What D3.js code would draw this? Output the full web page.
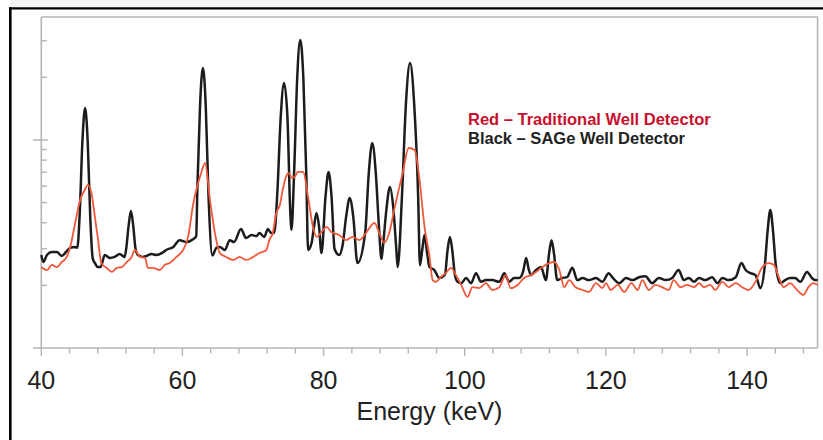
<!DOCTYPE html>
<html>
<head>
<meta charset="utf-8">
<script src="https://cdn.jsdelivr.net/npm/d3@7"></script>
<style>
body { margin: 0; background: #fff; }
text { font-family: "Liberation Sans", Arial, Helvetica, sans-serif; }
</style>
</head>
<body>
<script>
// spectrum data: [energy keV, counts]
const blackSpectrum = [
[40.0,280],[40.3,259],[40.8,280],[41.5,289],[42.2,289],[42.9,277],[43.6,292],[44.1,303],[44.8,306],[45.1,303],
[45.45,448],[45.82,975],[46.2,1425],[46.58,975],[46.95,413],[47.3,268],[47.6,256],[48.0,245],[48.4,245],[49.0,280],
[49.7,271],[50.4,274],[51.1,283],[51.8,274],[52.05,304],[52.37,386],[52.7,455],[53.03,386],[53.35,300],[53.7,280],
[54.4,274],[54.9,277],[55.6,283],[56.3,280],[57.3,289],[57.7,296],[58.7,306],[59.6,330],[60.6,323],[61.5,333],
[61.95,345],[62.12,594],[62.5,1480],[62.9,2220],[63.3,1465],[63.68,556],[64.25,278],[64.8,303],[65.3,306],[66.0,296],
[66.7,330],[67.3,323],[68.3,373],[69.0,338],[69.8,349],[70.5,345],[70.9,357],[71.6,342],[72.1,373],[72.6,357],
[73.0,357],[73.45,561],[73.92,1281],[74.4,1880],[74.88,1281],[75.25,480],[75.45,370],[75.84,725],[76.26,1980],[76.7,3027],
[77.14,1954],[77.56,665],[77.8,296],[78.3,320],[78.65,385],[79.0,446],[79.35,385],[79.7,286],[80.28,538],[80.7,702],
[81.12,538],[81.55,300],[82.2,280],[82.7,313],[83.2,429],[83.7,526],[84.2,429],[84.8,256],[85.9,360],[86.4,691],
[86.9,967],[87.4,691],[87.85,380],[88.2,268],[88.4,305],[88.9,463],[89.4,594],[89.9,463],[90.3,300],[90.5,245],
[91.1,533],[91.68,1522],[92.25,2345],[92.82,1522],[93.4,533],[93.65,250],[94.0,300],[94.3,349],[94.65,290],[95.0,245],
[95.7,237],[96.4,217],[97.2,225],[97.55,292],[97.9,342],[98.25,292],[98.6,225],[98.98,208],[99.5,205],[100.2,217],
[100.9,205],[101.6,229],[102.3,208],[103.0,212],[103.9,212],[104.9,208],[105.6,229],[106.3,208],[107.0,217],[107.7,217],
[108.3,235],[108.7,271],[109.05,240],[109.4,224],[110.1,237],[110.8,245],[111.5,212],[111.95,284],[112.3,330],[112.65,284],
[113.1,212],[113.8,217],[114.5,219],[115.25,243],[115.95,212],[116.7,217],[117.6,212],[118.6,217],[119.5,208],[120.4,229],
[120.9,219],[121.9,205],[122.85,217],[123.8,212],[124.7,219],[125.6,221],[126.55,205],[127.5,217],[128.5,212],[129.4,217],
[130.3,237],[131.05,212],[131.75,217],[132.5,208],[133.2,217],[134.1,212],[135.05,219],[135.8,205],[136.5,217],[137.4,212],
[138.4,219],[139.2,256],[139.8,237],[140.5,229],[141.2,224],[141.9,194],[142.54,253],[142.92,366],[143.3,461],[143.68,366],
[144.06,253],[144.7,205],[145.4,212],[146.1,217],[146.8,217],[147.55,208],[148.5,232],[149.2,217],[149.65,212],[150,212]
];

const redSpectrum = [
[40.0,245],[40.8,237],[41.5,251],[42.2,245],[42.9,259],[43.6,274],[44.1,306],[44.8,399],[45.5,515],[46.1,570],
[46.6,608],[47.1,556],[47.6,426],[48.1,320],[48.5,256],[49.25,243],[50.0,232],[50.7,243],[51.4,245],[52.1,259],
[52.8,274],[53.25,296],[54.0,274],[54.7,271],[55.1,243],[55.8,243],[56.8,237],[57.5,251],[58.2,256],[59.15,274],
[60.1,296],[60.8,342],[61.5,487],[62.2,616],[62.7,702],[63.2,775],[63.9,515],[64.6,357],[65.3,286],[66.2,274],
[67.2,265],[68.1,274],[69.05,265],[70.0,274],[70.9,286],[71.9,296],[72.3,330],[72.8,357],[73.3,446],[73.8,487],
[74.2,575],[74.8,680],[75.1,693],[75.5,657],[75.9,664],[76.35,702],[77.1,702],[77.8,532],[78.5,382],[79.0,342],
[79.7,361],[80.4,382],[81.1,361],[82.2,349],[83.2,330],[84.1,342],[85.1,330],[86.0,357],[87.2,399],[87.9,357],
[88.6,320],[89.3,357],[90.0,461],[91.2,693],[92.05,915],[92.9,895],[93.6,642],[94.3,382],[95.0,277],[95.45,212],
[95.9,208],[96.6,219],[97.3,229],[98.05,243],[98.75,224],[99.5,201],[100.4,176],[101.1,196],[102.05,194],[103.0,205],
[103.9,190],[104.9,196],[105.8,224],[106.5,194],[107.5,201],[108.4,217],[109.4,224],[110.1,232],[111.0,245],[111.95,256],
[112.7,259],[113.4,237],[114.1,196],[114.8,212],[115.7,196],[116.7,190],[117.6,186],[118.6,205],[119.5,194],[120.0,205],
[120.7,190],[121.7,201],[122.6,186],[123.6,205],[124.5,190],[125.15,212],[126.1,190],[127.0,201],[127.98,196],[128.9,190],
[129.6,212],[130.6,196],[131.5,201],[132.5,196],[133.2,205],[133.9,196],[134.8,201],[135.5,190],[136.5,208],[137.4,196],
[138.4,205],[139.3,196],[140.2,190],[141.2,208],[142.1,243],[143.1,256],[143.8,251],[144.5,219],[145.2,196],[146.1,205],
[147.1,190],[148.0,180],[148.7,196],[149.4,205],[150,201]
];

const xLabels = [40, 60, 80, 100, 120, 140];
const xMinor = d3.range(40, 151, 4);
const yMinor = [200, 300, 400, 500, 600, 700, 800, 900, 2000, 3000];
const yMajor = [1000];
const legendLines = ["Red \u2013 Traditional Well Detector", "Black \u2013 SAGe Well Detector"];

const W = 823, H = 440;
const plotLeft = 41.3, plotRight = 817.6, plotTop = 17, plotBottom = 348;

const svg = d3.select("body").append("svg")
    .attr("width", W).attr("height", H);

// outer frame
svg.append("rect").attr("x", 10).attr("y", 0).attr("width", W - 10).attr("height", 7).style("fill", "#f4f4f4");
svg.append("line").attr("x1", 9).attr("x2", W).attr("y1", 8.3).attr("y2", 8.3)
    .style("stroke", "#000").style("stroke-width", 2.2);
svg.append("line").attr("x1", 10.3).attr("x2", 10.3).attr("y1", 7.2).attr("y2", H)
    .style("stroke", "#000").style("stroke-width", 2.6);

const x = d3.scaleLinear().domain([40, 150]).range([plotLeft, plotRight]);
const y = d3.scaleLog().domain([100, 3900]).range([plotBottom, plotTop]);

const axisColor = "#b4b4b4";

// plot box
svg.append("line").attr("x1", plotLeft).attr("x2", plotRight).attr("y1", plotTop).attr("y2", plotTop)
    .style("stroke", axisColor).style("stroke-width", 1.6);
svg.append("line").attr("x1", plotRight).attr("x2", plotRight).attr("y1", plotTop).attr("y2", plotBottom)
    .style("stroke", axisColor).style("stroke-width", 1.6);

// x axis
const xAxisG = svg.append("g").attr("transform", `translate(0,${plotBottom})`);
xAxisG.append("line").attr("x1", 33).attr("x2", plotRight).attr("y1", 0).attr("y2", 0)
    .style("stroke", axisColor).style("stroke-width", 1.6);
xAxisG.selectAll(".minor").data(xMinor).enter().append("line")
    .attr("x1", d => x(d)).attr("x2", d => x(d))
    .attr("y1", 0).attr("y2", d => xLabels.includes(d) ? 8 : 5.5)
    .style("stroke", axisColor).style("stroke-width", 1.4);
xAxisG.selectAll("text").data(xLabels).enter().append("text")
    .attr("x", d => x(d)).attr("y", 41)
    .attr("text-anchor", "middle")
    .style("font-size", "25px").style("fill", "#222")
    .text(d => d);

svg.append("text").attr("x", (plotLeft + plotRight) / 2).attr("y", 420)
    .attr("text-anchor", "middle")
    .style("font-size", "25px").style("fill", "#222")
    .text("Energy (keV)");

// y axis
svg.append("line").attr("x1", plotLeft).attr("x2", plotLeft).attr("y1", plotTop).attr("y2", plotBottom)
    .style("stroke", axisColor).style("stroke-width", 1.6);
svg.selectAll(".ytick").data(yMinor).enter().append("line")
    .attr("x1", plotLeft).attr("x2", plotLeft + 5.5)
    .attr("y1", d => y(d)).attr("y2", d => y(d))
    .style("stroke", axisColor).style("stroke-width", 1.4);
svg.selectAll(".ymajor").data(yMajor).enter().append("line")
    .attr("x1", 33).attr("x2", plotLeft + 6.5)
    .attr("y1", d => y(d)).attr("y2", d => y(d))
    .style("stroke", axisColor).style("stroke-width", 1.4);

// spectra
const line = d3.line()
    .x(d => x(d[0]))
    .y(d => y(d[1]))
    .curve(d3.curveMonotoneX);

svg.append("path").datum(blackSpectrum)
    .attr("d", line)
    .style("fill", "none").style("stroke", "#1c1c1c").style("stroke-width", 2.5)
    .style("stroke-linejoin", "round");

svg.append("path").datum(redSpectrum)
    .attr("d", line)
    .style("fill", "none").style("stroke", "#f0583a").style("stroke-width", 1.8)
    .style("stroke-linejoin", "round");

// legend
svg.selectAll(".legend").data(legendLines).enter().append("text")
    .attr("x", 468).attr("y", (d, i) => 125 + i * 18.5)
    .style("font-size", "16.5px").style("font-weight", "bold")
    .style("fill", (d, i) => i == 0 ? "#c8102e" : "#222")
    .text(d => d);
</script>
</body>
</html>
